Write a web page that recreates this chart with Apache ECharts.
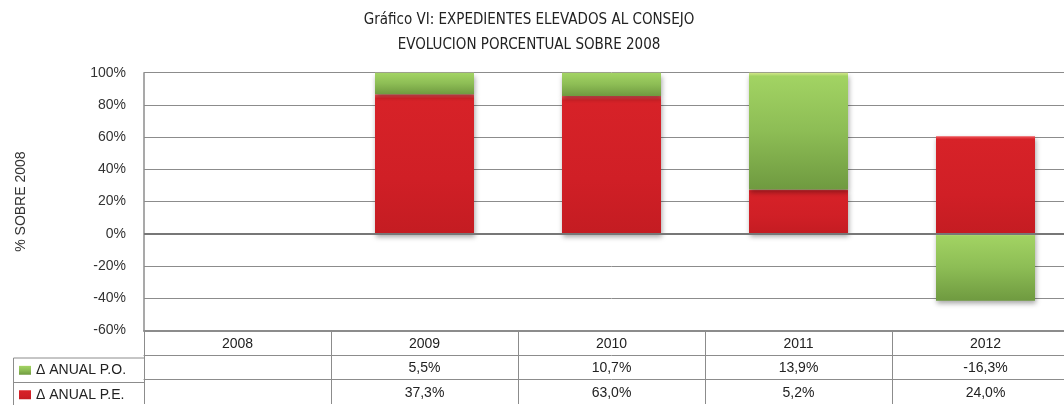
<!DOCTYPE html>
<html>
<head>
<meta charset="utf-8">
<title>Gráfico VI</title>
<script src="https://cdn.jsdelivr.net/npm/echarts@6/dist/echarts.min.js"></script>
<style>
  html, body { margin: 0; padding: 0; background: #fff; overflow: hidden; }
  /* the original picture is cropped on the right, so the chart is a bit wider than the window */
  #chart { width: 1079px; height: 405px; }
</style>
</head>
<body>
<div id="chart"></div>
<script>
// categorias y valores
var years = ['2008', '2009', '2010', '2011', '2012']
// altura de los tramos apilados (% sobre 2008)
var peBar = [null, 86.6, 85.5, 27.5, 60.5]
var poBar = [null, 13.4, 14.5, 72.5, -41.6]
// tabla de datos (variacion anual)
var poAnnual = [null, 5.5, 10.7, 13.9, -16.3]
var peAnnual = [null, 37.3, 63.0, 5.2, 24.0]
var yTicks = [-60, 100, 20]   // min, max, interval

var font = "'Liberation Sans', Arial, sans-serif"
var gridColor = '#8c8c8c'
var rowH = 24.5

function fmt(v) {
  if (v == null) return ''
  return v.toFixed(1).replace('.', ',') + '%'
}

var redFill = new echarts.graphic.LinearGradient(0, 0, 0, 1, [
  { offset: 0, color: '#f0555a' },
  { offset: 0.03, color: '#d72228' },
  { offset: 0.6, color: '#d01f26' },
  { offset: 1, color: '#c41c22' }
])
var greenFill = new echarts.graphic.LinearGradient(0, 0, 0, 1, [
  { offset: 0, color: '#d6e88c' },
  { offset: 0.03, color: '#a2d363' },
  { offset: 0.5, color: '#8dbd55' },
  { offset: 1, color: '#6f9a40' }
])

function tableAxis(idx, labels) {
  return {
    type: 'category',
    data: years,
    position: 'bottom',
    offset: rowH * idx,
    axisLine: { onZero: false, lineStyle: { color: gridColor, width: idx === 0 ? 2 : 1 } },
    axisTick: { show: true, interval: 0, length: rowH, lineStyle: { color: gridColor } },
    axisLabel: {
      interval: 0,
      margin: 1,
      lineHeight: rowH,
      fontSize: 14,
      fontFamily: font,
      color: '#222',
      formatter: function (v, i) { return labels ? fmt(labels[i]) : v }
    },
    splitLine: { show: false }
  }
}

function legendRow(name, row) {
  return {
    left: 19,
    top: 358 + rowH * row,
    padding: 0,
    itemWidth: 12,
    itemHeight: 9,
    icon: 'rect',
    data: [name],
    textStyle: { fontFamily: font, fontSize: 14, color: '#222', lineHeight: rowH }
  }
}

var chart = echarts.init(document.getElementById('chart'))
var option = {
  backgroundColor: '#fff',
  animation: false,
  title: {
    text: 'Gráfico VI: EXPEDIENTES ELEVADOS AL CONSEJO\nEVOLUCION PORCENTUAL SOBRE 2008',
    left: 524,
    textAlign: 'center',
    top: 3,
    textStyle: {
      fontFamily: "'DejaVu Sans Condensed', 'Liberation Sans Narrow', sans-serif",
      fontSize: 15,
      fontWeight: 'normal',
      color: '#222',
      lineHeight: 25
    }
  },
  legend: [
    legendRow('Δ ANUAL P.O.', 0),
    legendRow('Δ ANUAL P.E.', 1)
  ],
  grid: { left: 144, right: 0, top: 72.7, bottom: 72.3 },
  xAxis: [
    tableAxis(0, null),
    tableAxis(1, poAnnual),
    tableAxis(2, peAnnual)
  ],
  yAxis: {
    type: 'value',
    min: yTicks[0],
    max: yTicks[1],
    interval: yTicks[2],
    name: '% SOBRE 2008',
    nameLocation: 'middle',
    nameGap: 116,
    nameRotate: 90,
    nameTextStyle: { fontFamily: font, fontSize: 14, color: '#333' },
    axisLine: { show: true, lineStyle: { color: gridColor, width: 1.5 } },
    axisTick: { show: false },
    axisLabel: {
      margin: 18,
      fontSize: 14,
      fontFamily: font,
      color: '#333',
      formatter: '{value}%'
    },
    splitLine: { lineStyle: { color: gridColor, width: 1 } }
  },
  graphic: [{
    type: 'polyline',
    silent: true,
    shape: { points: [[144, 358], [13.5, 358], [13.5, 405]] },
    style: { stroke: gridColor, lineWidth: 1, fill: null }
  }, {
    type: 'line',
    silent: true,
    shape: { x1: 13.5, y1: 382.5, x2: 144, y2: 382.5 },
    style: { stroke: gridColor, lineWidth: 1 }
  }],
  series: [{
    name: 'Δ ANUAL P.E.',
    type: 'bar',
    stack: 'total',
    xAxisIndex: 0,
    barWidth: 99,
    data: peBar,
    itemStyle: {
      color: redFill,
      shadowColor: 'rgba(0,0,0,0.35)',
      shadowBlur: 5,
      shadowOffsetX: 1,
      shadowOffsetY: 3
    },
    markLine: {
      silent: true,
      symbol: 'none',
      label: { show: false },
      lineStyle: { color: '#777', width: 2, type: 'solid' },
      data: [{ yAxis: 0 }]
    }
  }, {
    name: 'Δ ANUAL P.O.',
    type: 'bar',
    stack: 'total',
    xAxisIndex: 0,
    barWidth: 99,
    data: poBar,
    itemStyle: {
      color: greenFill,
      shadowColor: 'rgba(0,0,0,0.35)',
      shadowBlur: 5,
      shadowOffsetX: 1,
      shadowOffsetY: 3
    }
  }]
}
chart.setOption(option)
</script>
</body>
</html>
